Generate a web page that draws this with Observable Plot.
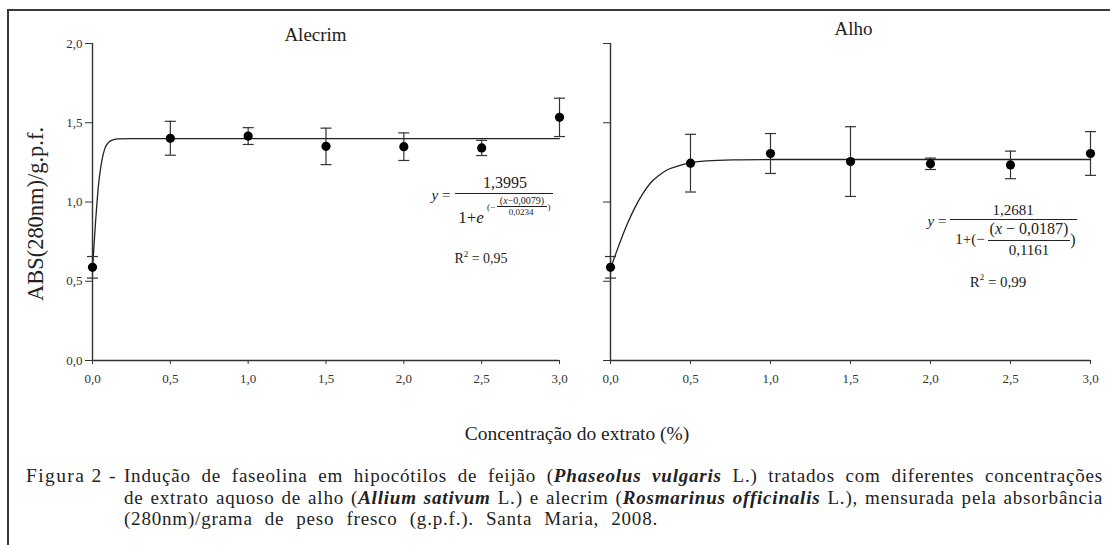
<!DOCTYPE html>
<html>
<head>
<meta charset="utf-8">
<script src="https://cdn.jsdelivr.net/npm/d3@7"></script>
<script src="https://cdn.jsdelivr.net/npm/@observablehq/plot@0.6"></script>
<style>
html, body { margin: 0; padding: 0; background: #fff; overflow: hidden; }
#page { position: relative; width: 1110px; height: 545px; overflow: hidden;
  font-family: "Liberation Serif", "Times New Roman", serif; color: #222; }
#frame { position: absolute; left: 7px; top: 9px; width: 1200px; height: 600px;
  border: 2px solid #3a3a3a; box-sizing: border-box; }
svg.plot { position: absolute; top: 0; background: transparent !important; color: #333; }
.abs { position: absolute; white-space: nowrap; line-height: 1; transform: translate(-50%, -50%); }
.hr { position: absolute; height: 0; border-top: 1px solid #222; }
.cap { position: absolute; white-space: nowrap; font-size: 19.5px; line-height: 21.6px; letter-spacing: 0.8px; transform-origin: 0 50%; }
</style>
</head>
<body>
<div id="page"><div id="frame"></div></div>
<script>
// ---------------- data ----------------
const concentrations = [0, 0.5, 1.0, 1.5, 2.0, 2.5, 3.0];
const alecrimMean = [0.588, 1.402, 1.416, 1.351, 1.349, 1.341, 1.534];
const alecrimSd   = [0.068, 0.107, 0.053, 0.115, 0.087, 0.048, 0.121];
const alhoMean    = [0.588, 1.245, 1.306, 1.255, 1.241, 1.234, 1.306];
const alhoSd      = [0.068, 0.182, 0.126, 0.220, 0.036, 0.087, 0.138];

// fitted curves
const alecrimCurveX = [0, 0.01, 0.02, 0.03, 0.04, 0.05, 0.06, 0.08, 0.10, 0.13, 0.17, 0.25, 3.0];
const alecrimCurveY = [0.58, 0.73, 0.88, 1.01, 1.12, 1.20, 1.26, 1.34, 1.373, 1.392, 1.398, 1.3995, 1.3995];
const alhoCurveX = [0, 0.05, 0.10, 0.15, 0.20, 0.25, 0.30, 0.35, 0.40, 0.50, 0.60, 0.80, 1.0, 3.0];
const alhoCurveY = [0.58, 0.72, 0.85, 0.96, 1.05, 1.12, 1.165, 1.20, 1.22, 1.248, 1.26, 1.266, 1.268, 1.268];

const xTicks = [0, 0.5, 1.0, 1.5, 2.0, 2.5, 3.0];
const yTicks = [0, 0.5, 1.0, 1.5, 2.0];
const xDomain = [0, 3];
const yDomain = [0, 2];

const panelTitles = ["Alecrim", "Alho"];
const yLabel = "ABS(280nm)/g.p.f.";
const xLabel = "Concentração do extrato (%)";

// ---------------- helpers ----------------
const serif = "Liberation Serif, Times New Roman, serif";
const fmt = d => d.toFixed(1).replace(".", ",");
const capSymbol = { draw(ctx, size) { const w = Math.sqrt(size / Math.PI); ctx.moveTo(-w, 0); ctx.lineTo(w, 0); } };
const page = document.getElementById("page");

function panel(o) {
  const pts = concentrations.map((x, i) => ({ x, y: o.mean[i], lo: o.mean[i] - o.sd[i], hi: o.mean[i] + o.sd[i] }));
  const curve = o.cx.map((x, i) => ({ x, y: o.cy[i] }));
  const marks = [
    Plot.ruleY([yDomain[0]], { x1: xDomain[0], x2: xDomain[1], stroke: "#333", strokeWidth: 1.4 }),
    Plot.ruleX([xDomain[0]], { y1: yDomain[0], y2: yDomain[1], stroke: "#333", strokeWidth: 1.4 }),
    Plot.line(curve, { x: "x", y: "y", curve: "monotone-x", stroke: "#222", strokeWidth: 1.3 }),
    Plot.ruleX(pts, { x: "x", y1: "lo", y2: "hi", stroke: "#333", strokeWidth: 1.2 }),
    Plot.dot(pts, { x: "x", y: "lo", symbol: capSymbol, r: 5.5, fill: "none", stroke: "#333", strokeWidth: 1.2 }),
    Plot.dot(pts, { x: "x", y: "hi", symbol: capSymbol, r: 5.5, fill: "none", stroke: "#333", strokeWidth: 1.2 }),
    Plot.dot(pts, { x: "x", y: "y", r: 4.6, fill: "#000", stroke: "none" }),
    Plot.text([o.title], { text: d => d, frameAnchor: "top", textAnchor: "middle", lineAnchor: "middle",
      dx: o.tdx, dy: o.tdy, fontSize: 19, fontFamily: serif, fill: "#222" })
  ];
  if (o.ylabel) marks.push(Plot.text([o.ylabel], { text: d => d, frameAnchor: "left", textAnchor: "middle",
      lineAnchor: "middle", rotate: -90, dx: -57, dy: 12, fontSize: 23, fontFamily: serif, fill: "#222" }));
  const svg = Plot.plot({
    width: o.width, height: 400,
    marginLeft: o.ml, marginRight: o.mr, marginTop: 43, marginBottom: 40,
    style: { fontFamily: serif, fontSize: "13px", color: "#333", background: "transparent", overflow: "visible" },
    x: { domain: xDomain, ticks: xTicks, tickFormat: fmt, tickSize: 4, tickPadding: 9, label: null },
    y: { domain: yDomain, ticks: yTicks, tickFormat: o.showY ? fmt : () => "", tickSize: 7, tickPadding: 3, label: null },
    marks
  });
  svg.classList.add("plot");
  svg.style.left = o.left + "px";
  svg.setAttribute("font-family", serif);
  svg.setAttribute("font-size", "13");
  const sel = d3.select(svg);
  sel.selectAll("text").style("font-family", serif);
  page.appendChild(svg);
  if (o.ylabel) {
    sel.selectAll("text").filter(function () { return this.textContent === o.ylabel; })
      .attr("textLength", 174).attr("lengthAdjust", "spacingAndGlyphs");
  }
  return svg;
}

panel({ mean: alecrimMean, sd: alecrimSd, cx: alecrimCurveX, cy: alecrimCurveY, title: panelTitles[0],
  width: 580, left: 0, ml: 92, mr: 21, showY: true, tdx: -10.5, tdy: -9, ylabel: yLabel });
panel({ mean: alhoMean, sd: alhoSd, cx: alhoCurveX, cy: alhoCurveY, title: panelTitles[1],
  width: 520, left: 590, ml: 20, mr: 20, showY: false, tdx: 3, tdy: -15 });

// ---------------- annotations ----------------
function put(html, cx, cy, size, extra) {
  const d = document.createElement("div");
  d.className = "abs";
  d.innerHTML = html;
  d.style.left = cx + "px"; d.style.top = cy + "px"; d.style.fontSize = size + "px";
  if (extra) Object.assign(d.style, extra);
  page.appendChild(d);
  return d;
}
function hr(x1, x2, y, w) {
  const d = document.createElement("div");
  d.className = "hr";
  d.style.left = x1 + "px"; d.style.width = (x2 - x1) + "px"; d.style.top = y + "px";
  if (w) d.style.borderTopWidth = w + "px";
  page.appendChild(d);
}

// Alecrim equation
put("<i>y</i> =", 441, 195, 15);
put("1,3995", 505, 183, 16);
hr(455, 553, 193);
put("1+<i>e</i>", 471, 217, 17);
put("(−", 491, 207, 9);
put("(<i>x</i>−0,0079)", 522, 201, 10);
hr(497, 547, 205.5, 0.7);
put("0,0234", 521, 212, 9);
put(")", 549, 207, 9);
put("R<sup style='font-size:9px;vertical-align:6px'>2</sup> = 0,95", 481, 258, 14);

// Alho equation
put("<i>y</i> =", 937, 221, 15);
put("1,2681", 1013, 210, 15);
hr(950, 1077, 219);
put("1+(−", 970, 239, 15);
put("(<i>x</i> − 0,0187)", 1029, 229, 16);
hr(988, 1070, 240);
put("0,1161", 1029, 250, 15);
put(")", 1073, 240, 16);
put("R<sup style='font-size:9px;vertical-align:7px'>2</sup> = 0,99", 998, 281, 15);

// x-axis label
put(xLabel, 577, 434, 19.5);

// ---------------- caption ----------------
function capLine(html, left, top) {
  const d = document.createElement("div");
  d.className = "cap";
  d.innerHTML = html;
  d.style.left = left + "px"; d.style.top = top + "px";
  page.appendChild(d);
  return d;
}
const fig = capLine("Figura 2 -", 26, 465);
fig.style.letterSpacing = "1.4px";
const lines = [
  [capLine("Indução de faseolina em hipocótilos de feijão (<b><i>Phaseolus vulgaris</i></b> L.) tratados com diferentes concentrações", 124, 465), 979],
  [capLine("de extrato aquoso de alho (<b><i>Allium sativum</i></b> L.) e alecrim (<b><i>Rosmarinus officinalis</i></b> L.), mensurada pela absorbância", 124, 486.6), 979],
  [capLine("(280nm)/grama de peso fresco (g.p.f.). Santa Maria, 2008.", 124, 508.2), 534]
];
const natural = lines.map(([d]) => d.getBoundingClientRect().width);
const gaps = lines.map(([d]) => (d.textContent.match(/ /g) || []).length);
let s = 1;
lines.forEach(([d, t], i) => { s = Math.min(s, t / (natural[i] + 1.5 * gaps[i])); });
lines.forEach(([d, t], i) => {
  d.style.transform = `scaleX(${s})`;
  d.style.wordSpacing = ((t / s - natural[i]) / gaps[i]) + "px";
});
</script>
</body>
</html>
